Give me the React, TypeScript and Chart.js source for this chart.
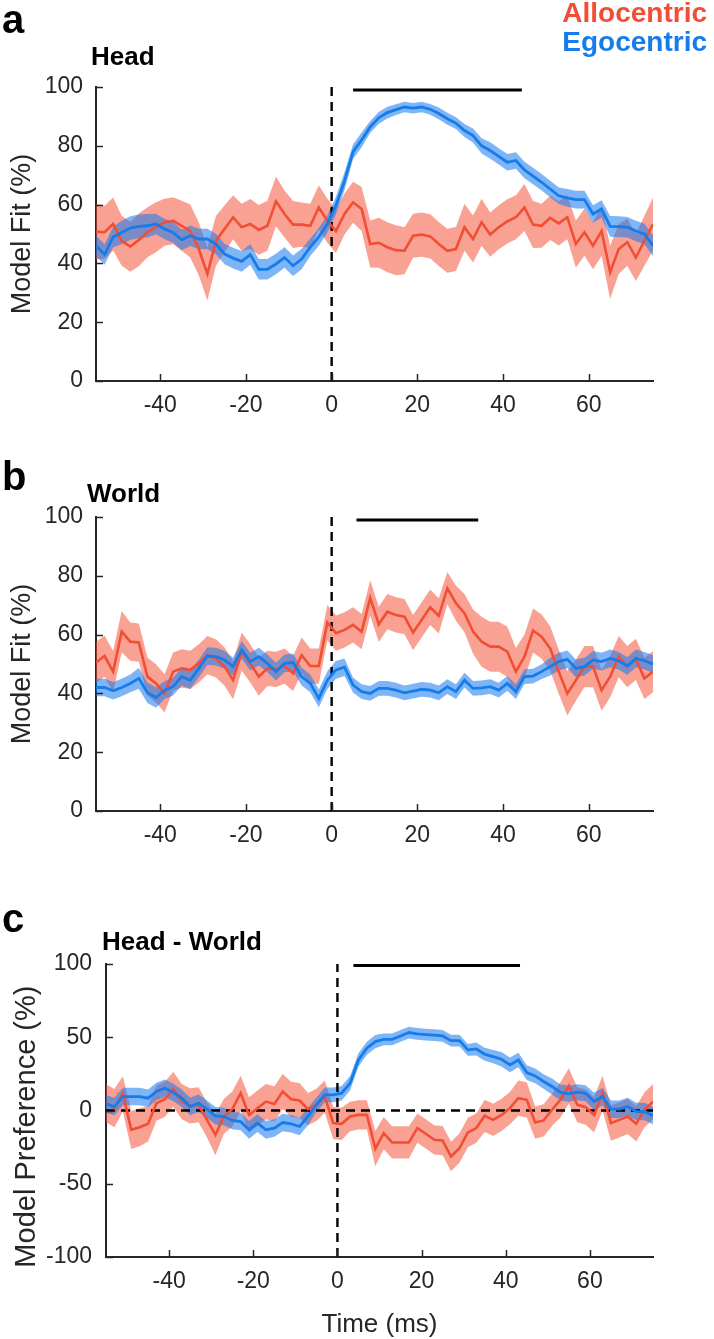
import React, { useEffect, useRef } from "react";
import { Chart, registerables } from "chart.js";

Chart.register(...registerables);

// ---------------- data ----------------
const times = [
  -55, -53, -51, -49, -47, -45, -43, -41, -39, -37,
  -35, -33, -31, -29, -27, -25, -23, -21, -19, -17,
  -15, -13, -11, -9, -7, -5, -3, -1,
  1, 3, 5, 7, 9, 11, 13, 15, 17, 19,
  21, 23, 25, 27, 29, 31, 33, 35, 37, 39,
  41, 43, 45, 47, 49, 51, 53, 55, 57, 59,
  61, 63, 65, 67, 69, 71, 73, 75,
];
const xTickValues = [-40, -20, 0, 20, 40, 60];
const fitTickValues = [0, 20, 40, 60, 80, 100];
const prefTickValues = [-100, -50, 0, 50, 100];

// Panel a: Head
const headAllo = [
  50.8, 50.6, 53.4, 47.7, 45.7, 48, 50.6, 52.3, 54, 54.5,
  52.8, 51, 44.9, 36.4, 47.7, 51.7, 55.7, 52.3, 53.4, 51.4,
  52.8, 61.1, 56.8, 53.2, 53.2, 52.8, 59, 54.5,
  51, 56.8, 60.8, 58.5, 46.6, 47, 45.5, 44.5, 44.3, 49.4,
  49.8, 49.2, 46.6, 44.3, 44.9, 52.3, 48.3, 54, 49.8, 52.3,
  54.3, 55.7, 59, 53.2, 52.8, 55.5, 53.6, 55.7, 46.6, 50.6,
  46, 51, 37, 44.9, 47.2, 42, 47.7, 53.4,
];
const headAlloErr = [
  9.5, 9, 9, 8.5, 8.5, 9, 8.5, 8.5, 8, 8,
  8.5, 9, 9, 9, 8.5, 8, 7.5, 8, 8.5, 8.5,
  8.5, 8.5, 8, 8, 7.5, 7.5, 7.5, 7.5,
  7.5, 7, 7, 7.5, 8, 8.5, 8.5, 8.5, 8, 7.5,
  7.5, 7.5, 7.5, 7.5, 7.5, 8, 8, 8, 7.5, 7.5,
  7.5, 7.5, 8, 8, 7.5, 7.5, 7.5, 7.5, 8, 8,
  8, 8.5, 9, 8.5, 8, 8, 8.5, 9,
];
const headEgo = [
  46, 43, 49, 50.5, 52, 52.6, 52.8, 53.4, 51.7, 50.5,
  48, 49.4, 48.3, 48.3, 46.6, 43.2, 41.8, 40.7, 43, 38,
  38, 39.8, 42, 39.2, 41.5, 45.5, 49, 53.4,
  59.7, 68, 78, 82, 86.4, 89.5, 91.3, 92.3, 93.2, 92.8,
  93.2, 92.4, 91, 89.2, 87.7, 85.2, 83.5, 80, 78.4, 76.4,
  74.4, 75, 71.8, 69.7, 67.6, 65.3, 63, 62.3, 61.7, 61.7,
  56.8, 58.5, 52.6, 52.5, 52.3, 51, 50, 46,
];
const headEgoErr = [
  3.5, 3.5, 3.5, 4, 4, 4, 4, 3.5, 3.5, 3.5,
  3.5, 3.5, 3.5, 3.5, 3.5, 3.5, 3.5, 3.5, 3.5, 3.5,
  3.5, 3.5, 3.5, 3.5, 3.5, 3, 3, 3,
  3, 3, 2.5, 2.5, 2, 2, 2, 1.8, 1.8, 1.8,
  1.8, 1.8, 2, 2, 2, 2.2, 2.4, 2.6, 2.8, 2.8,
  2.8, 2.8, 2.8, 2.8, 2.8, 2.8, 2.8, 3, 3, 3,
  3, 3, 3.5, 3.5, 3.5, 3.5, 3.5, 3.5,
];
const headSig = [5, 44.4];

// Panel b: World
const worldAllo = [
  50.5, 52.7, 47.4, 61, 57.6, 57.3, 45.7, 43.4, 40, 47.4,
  48.5, 48, 50.2, 53, 51.9, 49.1, 44.5, 54.2, 50.2, 45.7,
  48.5, 48.2, 49.3, 46.8, 53, 49.3, 49.3, 64.1,
  60.5, 61.6, 63.3, 61, 72.5, 63.5, 67.8, 66.7, 66.1, 60.7,
  65, 69.3, 66.4, 75.8, 70.7, 67.3, 61, 57.6, 55.9, 55.9,
  54.2, 47.4, 52.5, 61.4, 59.3, 55.3, 47.4, 40, 44.5, 49.1,
  49.1, 41.1, 45.7, 52.5, 49.1, 51.6, 45.1, 47.4,
];
const worldAlloErr = [
  7, 7, 7, 7, 6.5, 6.5, 6.5, 6.5, 6.5, 6.5,
  6.5, 6.5, 6.5, 6.5, 6.5, 6.5, 6.5, 6.5, 6.5, 6.5,
  6, 6, 6, 6, 6, 6, 6, 6,
  6, 6, 6, 6, 6, 6, 6, 6, 6, 6,
  6, 6, 6, 5.5, 6, 6.5, 7.5, 8.5, 8.5, 8.5,
  8.5, 8, 7.5, 7.5, 7.5, 7.5, 7.5, 7.5, 7, 7,
  7, 7, 7, 7, 7, 7, 7, 7,
];
const worldEgo = [
  42, 42, 40.9, 42, 43.4, 45.1, 40.2, 38.6, 41.1, 42.3,
  45.7, 44.5, 48.5, 52.7, 52.5, 51.4, 49.1, 54.8, 50.8, 52.5,
  50.2, 47.4, 50.2, 50.5, 45.7, 43.4, 38.3, 44.5,
  48, 48.9, 42.8, 40.6, 40, 41.7, 41.7, 41.1, 40.2, 40.8,
  41.4, 41.1, 40.2, 42.3, 40.6, 44.5, 41.7, 41.9, 42.3, 41.1,
  43.4, 40.6, 45.7, 45.9, 47.4, 49.1, 50.8, 51.6, 48.5, 49.1,
  51.4, 50.8, 51.9, 51.1, 49.3, 51.9, 51.1, 50,
];
const worldEgoErr = [
  3, 3, 3, 3, 3, 3.5, 3.5, 3.5, 3, 3,
  3, 3, 3, 3, 3, 3, 3, 3, 3, 3,
  3, 3, 3, 3, 3, 3, 3, 3,
  3, 3, 2.5, 2.5, 2.5, 2.5, 2.5, 2.5, 2.5, 2.5,
  2.5, 2.5, 2.5, 2.5, 2.5, 2.5, 2.5, 2.5, 2.5, 2.5,
  2.5, 2.5, 2.5, 2.5, 2.5, 3, 3, 3, 3, 3,
  3, 3, 3, 3, 3, 3, 3, 3,
];
const worldSig = [5.8, 34.2];

// Panel c: Head - World
const prefAllo = [
  5, 1.6, 11.4, -13.2, -11.4, -9.1, 5, 7.7, 14.5, 6.1,
  3.2, 3.9, -6.4, -16.6, -4.1, 0.9, 11.8, -3, 1.6, 6.1,
  4.5, 13, 7.7, 6.8, 0.9, 3.9, 9.5, -8.6,
  -9.1, -4.1, -3, -3, -26, -15.5, -21.8, -21.8, -21.8, -12,
  -15.9, -20, -20.5, -31.4, -25.7, -15, -12, -3.6, -6.4, -3,
  1.6, 8.4, 7.3, -8.2, -6.8, 0.5, 7.3, 16.8, 3.9, 2.3,
  -3, 11.8, -8.6, -6.4, -4.1, -9.1, 0.5, 6.1,
];
const prefAlloErr = [
  13, 13, 12, 13, 13, 12, 12, 12, 12, 12,
  12, 12, 12, 14, 12, 12, 12, 12, 12, 12,
  12, 12, 12, 12, 11, 11, 11, 11,
  11, 10, 10, 10, 12, 11, 11, 11, 11, 10,
  10, 10, 10, 10, 10, 10, 10, 11, 11, 11,
  11, 12, 12, 11, 11, 11, 12, 12, 12, 12,
  12, 12, 12, 12, 12, 12, 12, 12,
];
const prefEgo = [
  4.5, 2.7, 9.5, 9.5, 9.5, 8.4, 13, 15.2, 12.3, 8.4,
  2.7, 5, 0.9, -3.6, -4.1, -6.8, -7.5, -13.2, -8.6, -13.2,
  -12, -8.2, -9.1, -10.9, -4.1, 3.9, 10.7, 10.7,
  11.8, 18.6, 34.5, 42.5, 47, 48.6, 48.6, 50.9, 53.2, 52.3,
  51.8, 51.4, 50.9, 47.7, 47.7, 41.4, 42, 38.4, 36.8, 35,
  31.1, 34.5, 25.9, 23.6, 19.8, 16.4, 12.3, 11.4, 12.5, 11.8,
  6.1, 9.5, 0.9, 0.9, 2.7, -0.7, -0.7, -3.6,
];
const prefEgoErr = [
  6, 6, 6, 6, 6, 6, 6, 6, 6, 6,
  6, 6, 6, 6, 6, 6, 6, 6, 6, 6,
  6, 6, 6, 6, 6, 5, 5, 5,
  5, 5, 4.5, 4.5, 4.5, 4, 4, 4, 4, 4,
  4, 4, 4, 4, 4, 4, 4.5, 4.5, 4.5, 5,
  5, 5, 5, 5, 5, 5.5, 5.5, 5.5, 5.5, 5.5,
  6, 6, 6, 6, 6, 6, 6, 6,
];
const prefSig = [3.8, 43.4];

// ---------------- styles ----------------
const RED = "rgb(242,78,52)";
const RED_BAND = "rgba(244,76,50,0.52)";
const BLUE = "rgb(22,124,234)";
const BLUE_BAND = "rgba(20,120,240,0.55)";
const AXIS = "#262626";
const FONT = "'Liberation Sans', Arial, Helvetica, sans-serif";

type PanelCfg = {
  allo: number[];
  alloErr: number[];
  ego: number[];
  egoErr: number[];
  sig: number[];
  yMin: number;
  yMax: number;
  yTicks: number[];
  sigY: number;
  yTitle: string;
  yTitleSize: number;
  yTitlePad: number;
  xTitle?: string;
  zeroLine: boolean;
  axisW: number;
  xAxisH: number;
  padTop: number;
  padRight: number;
  yTickPad: number;
  top: number;
  height: number;
};

const inwardTicks = {
  id: "inwardTicks",
  afterDraw(chart: any) {
    const { ctx, chartArea } = chart;
    const xs = chart.scales.x;
    const ys = chart.scales.y;
    ctx.save();
    ctx.strokeStyle = AXIS;
    ctx.lineWidth = 1.5;
    ctx.beginPath();
    for (const t of xs.ticks) {
      const px = Math.round(xs.getPixelForValue(t.value)) + 0.5;
      ctx.moveTo(px, chartArea.bottom);
      ctx.lineTo(px, chartArea.bottom - 7);
    }
    for (const t of ys.ticks) {
      const py = Math.round(ys.getPixelForValue(t.value)) + 0.5;
      ctx.moveTo(chartArea.left, py);
      ctx.lineTo(chartArea.left + 7, py);
    }
    ctx.stroke();
    ctx.restore();
  },
};

function Panel({ cfg }: { cfg: PanelCfg }) {
  const ref = useRef<HTMLCanvasElement>(null);
  useEffect(() => {
    const p = cfg;
    const line = (v: number[]) => times.map((t, i) => ({ x: t, y: v[i] }));
    const band = (v: number[], e: number[], s: number) =>
      times.map((t, i) => ({ x: t, y: v[i] + s * e[i] }));
    const datasets: any[] = [];
    // significance bar
    datasets.push({
      data: [
        { x: p.sig[0], y: p.sigY },
        { x: p.sig[1], y: p.sigY },
      ],
      borderColor: "#000",
      borderWidth: 3,
      pointRadius: 0,
      fill: false,
      order: 0,
    });
    // data lines
    datasets.push({
      data: line(p.ego),
      borderColor: BLUE,
      borderWidth: 2.8,
      pointRadius: 0,
      fill: false,
      order: 1,
    });
    datasets.push({
      data: line(p.allo),
      borderColor: RED,
      borderWidth: 2.6,
      pointRadius: 0,
      fill: false,
      order: 2,
    });
    // dashed reference lines
    datasets.push({
      data: [
        { x: 0, y: p.yMin },
        { x: 0, y: p.yMax },
      ],
      borderColor: "#000",
      borderWidth: 2.4,
      borderDash: [9, 6],
      pointRadius: 0,
      fill: false,
      order: 3,
    });
    if (p.zeroLine) {
      datasets.push({
        data: [
          { x: times[0], y: 0 },
          { x: times[times.length - 1], y: 0 },
        ],
        borderColor: "#000",
        borderWidth: 2.4,
        borderDash: [9, 6],
        pointRadius: 0,
        fill: false,
        order: 3,
      });
    }
    // bands
    datasets.push({
      data: band(p.ego, p.egoErr, -1),
      borderWidth: 0,
      borderColor: "rgba(0,0,0,0)",
      pointRadius: 0,
      fill: false,
      order: 4,
    });
    datasets.push({
      data: band(p.ego, p.egoErr, 1),
      borderWidth: 0,
      borderColor: "rgba(0,0,0,0)",
      backgroundColor: BLUE_BAND,
      pointRadius: 0,
      fill: "-1",
      order: 4,
    });
    datasets.push({
      data: band(p.allo, p.alloErr, -1),
      borderWidth: 0,
      borderColor: "rgba(0,0,0,0)",
      pointRadius: 0,
      fill: false,
      order: 5,
    });
    datasets.push({
      data: band(p.allo, p.alloErr, 1),
      borderWidth: 0,
      borderColor: "rgba(0,0,0,0)",
      backgroundColor: RED_BAND,
      pointRadius: 0,
      fill: "-1",
      order: 5,
    });

    const chart = new Chart(ref.current as HTMLCanvasElement, {
      type: "line",
      data: { datasets },
      plugins: [inwardTicks],
      options: {
        animation: false,
        responsive: false,
        events: [],
        layout: { padding: { top: p.padTop, right: p.padRight, left: 0, bottom: 0 } },
        elements: { line: { tension: 0 } },
        plugins: {
          legend: { display: false },
          tooltip: { enabled: false },
        },
        scales: {
          x: {
            type: "linear",
            min: -55,
            max: 75,
            z: 1,
            afterBuildTicks: (s: any) => {
              s.ticks = xTickValues.map((v) => ({ value: v }));
            },
            afterFit: (s: any) => {
              s.height = p.xAxisH;
            },
            grid: { display: false, drawTicks: false },
            border: { display: true, color: AXIS, width: 2 },
            ticks: {
              color: AXIS,
              font: { family: FONT, size: 23 },
              padding: 11,
              maxRotation: 0,
              autoSkip: false,
              callback: (v: any) => String(v),
            },
            title: p.xTitle
              ? {
                  display: true,
                  text: p.xTitle,
                  color: AXIS,
                  font: { family: FONT, size: 26, lineHeight: 1 },
                  padding: { top: 0, bottom: 1 },
                }
              : { display: false },
          },
          y: {
            type: "linear",
            min: p.yMin,
            max: p.yMax,
            z: 1,
            afterBuildTicks: (s: any) => {
              s.ticks = p.yTicks.map((v) => ({ value: v }));
            },
            afterFit: (s: any) => {
              s.width = p.axisW;
            },
            grid: { display: false, drawTicks: false },
            border: { display: true, color: AXIS, width: 2 },
            ticks: {
              color: AXIS,
              font: { family: FONT, size: 23 },
              padding: p.yTickPad,
              callback: (v: any) => String(v),
            },
            title: {
              display: true,
              text: p.yTitle,
              color: AXIS,
              font: { family: FONT, size: p.yTitleSize, lineHeight: 1 },
              padding: { top: p.yTitlePad, bottom: 0 },
            },
          },
        },
      } as any,
    });
    return () => chart.destroy();
  }, [cfg]);
  return (
    <canvas
      ref={ref}
      width={714}
      height={cfg.height}
      style={{ position: "absolute", left: 0, top: cfg.top, width: 714, height: cfg.height }}
    />
  );
}

const panelA: PanelCfg = {
  allo: headAllo, alloErr: headAlloErr, ego: headEgo, egoErr: headEgoErr, sig: headSig,
  yMin: 0, yMax: 100, yTicks: fitTickValues, sigY: 99, yTitle: "Model Fit (%)",
  yTitleSize: 27, yTitlePad: 9, zeroLine: false, axisW: 96, xAxisH: 59, padTop: 87,
  padRight: 61, yTickPad: 13, top: 0, height: 440,
};
const panelB: PanelCfg = {
  allo: worldAllo, alloErr: worldAlloErr, ego: worldEgo, egoErr: worldEgoErr, sig: worldSig,
  yMin: 0, yMax: 100, yTicks: fitTickValues, sigY: 99, yTitle: "Model Fit (%)",
  yTitleSize: 27, yTitlePad: 9, zeroLine: false, axisW: 96, xAxisH: 59, padTop: 87,
  padRight: 61, yTickPad: 13, top: 430, height: 440,
};
const panelC: PanelCfg = {
  allo: prefAllo, alloErr: prefAlloErr, ego: prefEgo, egoErr: prefEgoErr, sig: prefSig,
  yMin: -100, yMax: 100, yTicks: prefTickValues, sigY: 99, yTitle: "Model Preference (%)    ",
  yTitleSize: 29, yTitlePad: 12, xTitle: "Time (ms)", zeroLine: true, axisW: 106, xAxisH: 82,
  padTop: 94, padRight: 61, yTickPad: 14, top: 870, height: 469,
};

function Label({ text, style }: { text: string; style: React.CSSProperties }) {
  return (
    <div
      style={{
        position: "absolute",
        lineHeight: 1,
        whiteSpace: "nowrap",
        fontFamily: FONT,
        fontWeight: "bold",
        color: "#000",
        ...style,
      }}
    >
      {text}
    </div>
  );
}

export default function App() {
  return (
    <div
      style={{
        position: "absolute",
        left: 0,
        top: 0,
        width: 714,
        height: 1339,
        background: "#fff",
        overflow: "hidden",
      }}
    >
      <Panel cfg={panelA} />
      <Panel cfg={panelB} />
      <Panel cfg={panelC} />
      <Label text="a" style={{ left: 2, top: -1, fontSize: 40 }} />
      <Label text="Head" style={{ left: 91, top: 43, fontSize: 26 }} />
      <Label text="Allocentric" style={{ right: 7, top: -1, fontSize: 28, color: RED }} />
      <Label text="Egocentric" style={{ right: 7, top: 28, fontSize: 28, color: BLUE }} />
      <Label text="b" style={{ left: 2, top: 456, fontSize: 40 }} />
      <Label text="World" style={{ left: 87, top: 480, fontSize: 26 }} />
      <Label text="c" style={{ left: 2, top: 898, fontSize: 40 }} />
      <Label text="Head - World" style={{ left: 102, top: 928, fontSize: 26 }} />
    </div>
  );
}
